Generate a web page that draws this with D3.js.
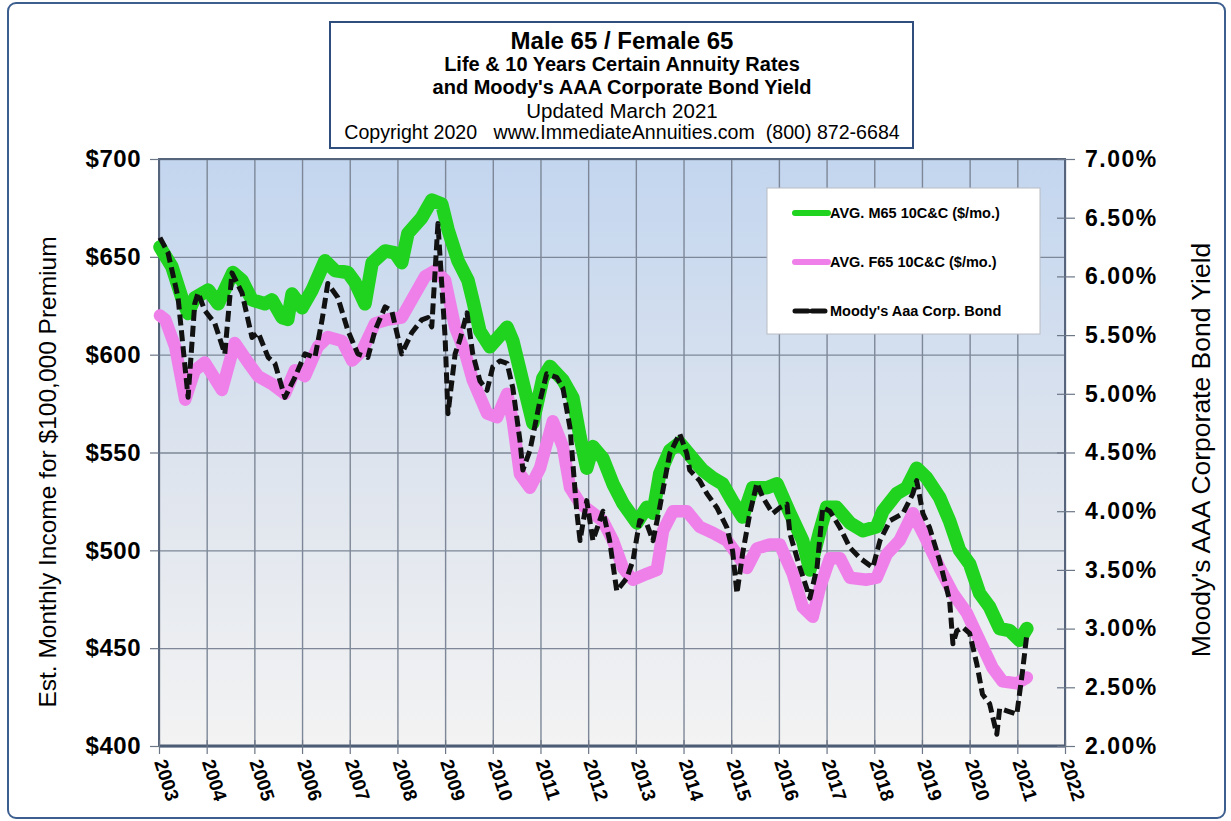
<!DOCTYPE html>
<html lang="en">
<head>
<meta charset="utf-8">
<title>Annuity Rates and Moody's AAA</title>
<script src="https://d3js.org/d3.v7.min.js"></script>
<style>
body { margin: 0; background: #fff; }
svg text { font-family: "Liberation Sans", Arial, sans-serif; fill: #000; }
.grid line { stroke: #7d8797; stroke-width: 1.4; }
.grid path { display: none; }
.axis path { display: none; }
.axis line { stroke: #6b7686; stroke-width: 1.2; }
.tickl text { font-size: 24px; font-weight: bold; letter-spacing: 0.5px; }
.tickr text { font-size: 23px; font-weight: bold; letter-spacing: 1.5px; }
</style>
</head>
<body>
<svg id="chart" width="1231" height="821"></svg>
<script>
// ---- data ----
var years = d3.range(2003, 2023);
var leftTicks = [400, 450, 500, 550, 600, 650, 700];
var rightTicks = [2, 2.5, 3, 3.5, 4, 4.5, 5, 5.5, 6, 6.5, 7];

var m65Time = [2003.02,2003.27,2003.48,2003.61,2003.75,2004.03,2004.24,2004.55,2004.74,2004.95,2005.22,2005.37,2005.58,2005.70,2005.79,2006.00,2006.21,2006.48,2006.69,2006.96,2007.11,2007.32,2007.47,2007.74,2007.95,2008.09,2008.22,2008.51,2008.72,2008.93,2009.06,2009.27,2009.48,2009.58,2009.73,2009.94,2010.30,2010.42,2010.72,2010.84,2011.05,2011.20,2011.47,2011.68,2011.83,2011.97,2012.10,2012.31,2012.52,2012.73,2013.02,2013.23,2013.36,2013.50,2013.71,2013.92,2014.19,2014.40,2014.61,2014.82,2015.03,2015.24,2015.45,2015.75,2015.96,2016.23,2016.50,2016.65,2016.86,2017.00,2017.21,2017.49,2017.76,2018.05,2018.18,2018.47,2018.68,2018.89,2019.10,2019.37,2019.58,2019.79,2020.00,2020.21,2020.42,2020.63,2020.84,2021.05,2021.20];
var m65Value = [655,645,629,621,629,633,626,642,638,628,626,628,619,618,631,624,633,648,643,642,637,626,647,653,652,647,662,670,679,677,664,648,638,628,612,604,614,607,577,565,588,594,587,578,558,542,553,547,534,524,514,522,519,539,551,555,547,541,537,534,525,517,532,532,534,519,505,490,510,522,522,514,510,512,520,529,532,542,537,527,515,500,493,478,471,460,459,454,460];

var f65Time = [2003.02,2003.13,2003.34,2003.55,2003.75,2003.96,2004.32,2004.59,2004.87,2005.08,2005.37,2005.64,2005.85,2006.06,2006.33,2006.54,2006.84,2007.05,2007.26,2007.53,2007.80,2008.09,2008.37,2008.58,2008.79,2009.00,2009.21,2009.42,2009.58,2009.88,2010.09,2010.30,2010.42,2010.57,2010.78,2010.99,2011.26,2011.47,2011.62,2011.83,2012.10,2012.31,2012.52,2012.73,2012.94,2013.23,2013.44,2013.57,2013.78,2014.07,2014.34,2014.61,2014.91,2015.12,2015.33,2015.54,2015.81,2016.02,2016.29,2016.50,2016.71,2016.86,2017.07,2017.28,2017.49,2017.84,2018.05,2018.26,2018.53,2018.81,2019.10,2019.37,2019.65,2019.94,2020.21,2020.48,2020.69,2020.99,2021.20];
var f65Value = [620,618,604,577,592,596,582,606,596,589,585,580,592,589,604,609,607,597,602,616,618,619,631,640,643,638,614,601,587,570,568,580,566,539,532,542,566,553,532,524,519,515,505,491,485,488,490,510,520,520,512,509,505,498,491,501,503,503,488,471,466,481,496,496,486,485,486,498,505,519,505,491,478,468,454,440,433,432,435];

var bondTime = [2003.02,2003.19,2003.40,2003.61,2003.75,2003.82,2003.96,2004.17,2004.38,2004.53,2004.74,2004.95,2005.08,2005.29,2005.43,2005.64,2005.85,2006.06,2006.27,2006.42,2006.54,2006.75,2006.96,2007.17,2007.38,2007.53,2007.74,2007.88,2008.09,2008.30,2008.51,2008.64,2008.72,2008.85,2009.00,2009.06,2009.21,2009.31,2009.46,2009.58,2009.73,2009.88,2010.00,2010.15,2010.30,2010.42,2010.57,2010.63,2010.78,2010.99,2011.13,2011.34,2011.47,2011.62,2011.76,2011.83,2011.97,2012.10,2012.31,2012.45,2012.60,2012.81,2012.94,2013.08,2013.23,2013.36,2013.50,2013.71,2013.92,2014.07,2014.13,2014.34,2014.49,2014.70,2014.91,2015.03,2015.12,2015.24,2015.39,2015.54,2015.66,2015.87,2016.02,2016.17,2016.23,2016.44,2016.65,2016.80,2016.92,2017.07,2017.28,2017.49,2017.70,2017.97,2018.12,2018.33,2018.60,2018.81,2018.89,2019.02,2019.16,2019.37,2019.58,2019.65,2019.73,2019.86,2020.00,2020.15,2020.27,2020.42,2020.57,2020.63,2020.78,2020.99,2021.11,2021.20];
var bondYield = [6.33,6.20,5.82,4.97,5.77,5.86,5.71,5.60,5.34,6.03,5.86,5.48,5.52,5.31,5.26,4.97,5.14,5.34,5.31,5.63,5.94,5.82,5.54,5.34,5.31,5.54,5.74,5.71,5.34,5.52,5.63,5.65,5.57,6.45,5.48,4.83,5.34,5.46,5.69,5.34,5.11,5.03,5.23,5.28,5.26,5.05,4.60,4.35,4.52,4.94,5.17,5.14,5.05,4.71,4.00,3.75,4.09,3.75,4.00,3.75,3.32,3.43,3.58,3.92,3.89,3.75,4.03,4.49,4.66,4.49,4.35,4.26,4.15,4.03,3.86,3.66,3.30,3.64,3.98,4.24,4.12,3.98,4.03,4.06,3.81,3.52,3.26,3.52,4.03,4.00,3.86,3.69,3.60,3.52,3.75,3.92,3.98,4.15,4.26,3.98,3.86,3.58,3.24,2.87,2.98,3.01,2.96,2.70,2.44,2.36,2.10,2.32,2.30,2.27,2.64,2.95];

var titleLines = [
  {t: "Male 65 / Female 65", size: 24, bold: true},
  {t: "Life & 10 Years Certain Annuity Rates", size: 20, bold: true},
  {t: "and Moody's AAA Corporate Bond Yield", size: 20, bold: true},
  {t: "Updated March 2021", size: 20.5, bold: false},
  {t: "Copyright 2020   www.ImmediateAnnuities.com  (800) 872-6684", size: 19.6, bold: false}
];
var legendItems = [
  {label: "AVG. M65 10C&C ($/mo.)", color: "#1fd31f", dash: null, w: 6},
  {label: "AVG. F65 10C&C ($/mo.)", color: "#ef80ea", dash: null, w: 6},
  {label: "Moody's Aaa Corp. Bond", color: "#111", dash: "13,4", w: 5}
];

// ---- layout ----
var svg = d3.select('#chart');
var pL = 159, pR = 1065, pT = 159, pB = 746;

var x = d3.scaleLinear().domain([2003, 2022]).range([pL, pR]);
var yL = d3.scaleLinear().domain([400, 700]).range([pB, pT]);
var yR = d3.scaleLinear().domain([2, 7]).range([pB, pT]);

// outer frame
svg.append('rect').attr('x', 8).attr('y', 3).attr('width', 1217).attr('height', 815)
  .attr('rx', 8).attr('fill', '#fff').attr('stroke', '#3d5f8f').attr('stroke-width', 2);

// plot background gradient
var grad = svg.append('defs').append('linearGradient').attr('id', 'bg')
  .attr('x1', 0).attr('y1', 0).attr('x2', 0).attr('y2', 1);
grad.append('stop').attr('offset', '0%').attr('stop-color', '#c3d6ef');
grad.append('stop').attr('offset', '55%').attr('stop-color', '#dfe5ee');
grad.append('stop').attr('offset', '100%').attr('stop-color', '#f3f3f3');
svg.append('rect').attr('x', pL).attr('y', pT).attr('width', pR - pL).attr('height', pB - pT)
  .attr('fill', 'url(#bg)');

// grid
svg.append('g').attr('class', 'grid').attr('transform', 'translate(0,' + pB + ')')
  .call(d3.axisBottom(x).tickValues(years).tickSize(-(pB - pT)).tickFormat(''));
svg.append('g').attr('class', 'grid').attr('transform', 'translate(' + pL + ',0)')
  .call(d3.axisLeft(yL).tickValues(leftTicks).tickSize(-(pR - pL)).tickFormat(''));

// plot border
svg.append('rect').attr('x', pL).attr('y', pT).attr('width', pR - pL).attr('height', pB - pT)
  .attr('fill', 'none').attr('stroke', '#56657c').attr('stroke-width', 2);
svg.append('line').attr('x1', pL).attr('x2', pR).attr('y1', pB).attr('y2', pB)
  .attr('stroke', '#4d5c75').attr('stroke-width', 3);

// left axis
svg.append('g').attr('class', 'axis tickl').attr('transform', 'translate(' + pL + ',0)')
  .call(d3.axisLeft(yL).tickValues(leftTicks).tickSize(9).tickPadding(9).tickFormat(function(d) { return '$' + d; }));

// right axis (ticks cross the axis)
var gr = svg.append('g').attr('class', 'axis tickr').attr('transform', 'translate(' + pR + ',0)')
  .call(d3.axisRight(yR).tickValues(rightTicks).tickSize(10).tickPadding(10)
    .tickFormat(function(d) { return d.toFixed(2) + '%'; }));
gr.selectAll('line').attr('x1', -8);

// bottom axis
var gb = svg.append('g').attr('class', 'axis').attr('transform', 'translate(0,' + pB + ')')
  .call(d3.axisBottom(x).tickValues(years).tickSize(8).tickFormat(''));
gb.selectAll('line').attr('y1', -6);
svg.append('g').selectAll('text').data(years).enter().append('text')
  .attr('transform', function(d) { return 'translate(' + (x(d) - 5) + ',762) rotate(72)'; })
  .attr('font-size', 19).attr('font-weight', 'bold').text(function(d) { return d; });

// series
var lineL = function(t, v) {
  return d3.line().x(function(i) { return x(t[i]); }).y(function(i) { return yL(v[i]); })(d3.range(t.length));
};
svg.append('path').attr('d', lineL(m65Time, m65Value)).attr('fill', 'none')
  .attr('stroke', '#1fd31f').attr('stroke-width', 13.5).attr('stroke-linejoin', 'round').attr('stroke-linecap', 'round');
svg.append('path').attr('d', lineL(f65Time, f65Value)).attr('fill', 'none')
  .attr('stroke', '#ef80ea').attr('stroke-width', 12.5).attr('stroke-linejoin', 'round').attr('stroke-linecap', 'round');
var bondLine = d3.line().x(function(i) { return x(bondTime[i]); }).y(function(i) { return yR(bondYield[i]); });
svg.append('path').attr('d', bondLine(d3.range(bondTime.length))).attr('fill', 'none')
  .attr('stroke', '#111').attr('stroke-width', 5).attr('stroke-dasharray', '11,5').attr('stroke-linejoin', 'round');

// axis titles
svg.append('text').attr('transform', 'translate(56,472) rotate(-90)').attr('text-anchor', 'middle')
  .attr('font-size', 24.5).text('Est. Monthly Income for $100,000 Premium');
svg.append('text').attr('transform', 'translate(1210,450) rotate(-90)').attr('text-anchor', 'middle')
  .attr('font-size', 26.5).text("Moody's AAA Corporate Bond Yield");

// title box
svg.append('rect').attr('x', 330).attr('y', 22).attr('width', 583).attr('height', 126)
  .attr('fill', '#fff').attr('stroke', '#2f4e7e').attr('stroke-width', 2);
var titleY = [40, 64, 87, 110, 132];
svg.append('g').selectAll('text').data(titleLines).enter().append('text')
  .attr('x', 622).attr('y', function(d, i) { return titleY[i]; })
  .attr('dominant-baseline', 'central').attr('text-anchor', 'middle')
  .style('white-space', 'pre')
  .attr('font-size', function(d) { return d.size; })
  .attr('font-weight', function(d) { return d.bold ? 'bold' : 'normal'; })
  .text(function(d) { return d.t; });

// legend
svg.append('rect').attr('x', 767).attr('y', 188).attr('width', 273).attr('height', 146)
  .attr('fill', '#fff').attr('stroke', '#b8bcc4').attr('stroke-width', 1);
var lg = svg.append('g').selectAll('g').data(legendItems).enter().append('g')
  .attr('transform', function(d, i) { return 'translate(795,' + (213 + i * 49) + ')'; });
lg.append('line').attr('x1', 0).attr('x2', 33).attr('stroke', function(d) { return d.color; })
  .attr('stroke-width', function(d) { return d.w; })
  .attr('stroke-dasharray', function(d) { return d.dash; }).attr('stroke-linecap', 'round');
lg.append('text').attr('x', 35).attr('dominant-baseline', 'central')
  .attr('font-size', 14.5).attr('font-weight', 'bold').text(function(d) { return d.label; });
</script>
</body>
</html>
